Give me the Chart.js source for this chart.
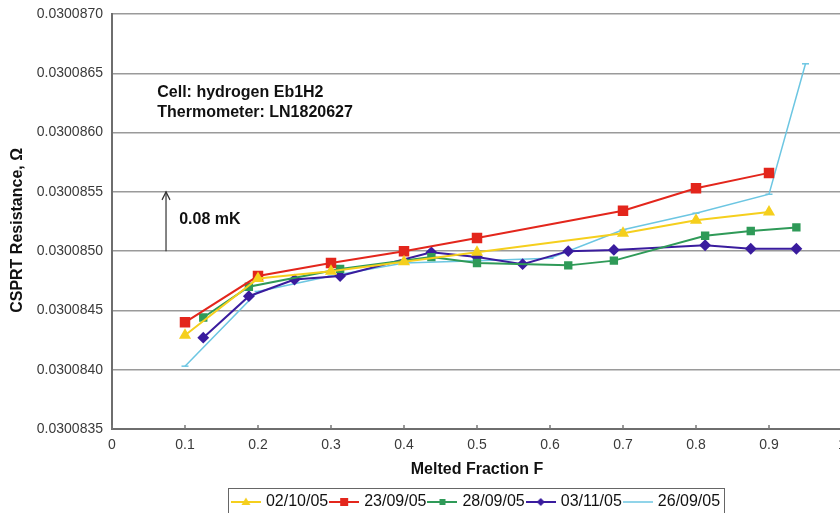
<!DOCTYPE html>
<html>
<head>
<meta charset="utf-8">
<script src="https://cdn.jsdelivr.net/npm/chart.js@4"></script>
<style>
  html, body { margin: 0; padding: 0; overflow: hidden; background: #fff; }
  #wrap { width: 850px; height: 525px; }
</style>
</head>
<body>
<div id="wrap"><canvas id="resistanceChart" width="850" height="525"></canvas></div>
<script>
// tick labels
const xTicks = [0, 0.1, 0.2, 0.3, 0.4, 0.5, 0.6, 0.7, 0.8, 0.9, 1]
const yTicks = [0.0300835, 0.0300840, 0.0300845, 0.0300850, 0.0300855, 0.0300860, 0.0300865, 0.0300870]

// series (melted fraction F, resistance in ohm)
const labels = ['02/10/05', '23/09/05', '28/09/05', '03/11/05', '26/09/05']

const f021005 = [0.1, 0.2, 0.3, 0.4, 0.5, 0.7, 0.8, 0.9]
const r021005 = [0.03008429, 0.03008477, 0.03008483, 0.03008491, 0.03008499, 0.03008515, 0.03008526, 0.03008533]

const f230905 = [0.1, 0.2, 0.3, 0.4, 0.5, 0.7, 0.8, 0.9]
const r230905 = [0.03008440, 0.03008479, 0.03008490, 0.03008500, 0.03008511, 0.03008534, 0.03008553, 0.03008566]

const f280905 = [0.125, 0.1875, 0.3125, 0.4375, 0.5, 0.625, 0.6875, 0.8125, 0.875, 0.9375]
const r280905 = [0.03008444, 0.03008470, 0.03008485, 0.03008495, 0.03008490, 0.03008488, 0.03008492, 0.03008513, 0.03008517, 0.03008520]

const f031105 = [0.125, 0.1875, 0.25, 0.3125, 0.4375, 0.5, 0.5625, 0.625, 0.6875, 0.8125, 0.875, 0.9375]
const r031105 = [0.03008427, 0.03008462, 0.03008476, 0.03008479, 0.03008499, 0.03008495, 0.03008489, 0.03008500, 0.03008501, 0.03008505, 0.03008502, 0.03008502]

const f260905 = [0.1, 0.2, 0.3, 0.4, 0.5, 0.6, 0.7, 0.8, 0.9, 0.95]
const r260905 = [0.03008403, 0.03008466, 0.03008479, 0.03008490, 0.03008492, 0.03008494, 0.03008518, 0.03008532, 0.03008548, 0.03008658]

const colors = ['#f5cf1d', '#e3261c', '#2f9a58', '#3a1c9e', '#6cc6e2']

const toPoints = (xs, ys) => xs.map((x, i) => ({ x: x, y: ys[i] }))

// little line + marker pictures for the legend
const legendSymbol = (color, shape, lineWidth) => {
    const c = document.createElement('canvas')
    c.width = 30
    c.height = 14
    const g = c.getContext('2d')
    g.strokeStyle = color
    g.fillStyle = color
    g.lineWidth = lineWidth
    g.beginPath(); g.moveTo(0, 7); g.lineTo(30, 7); g.stroke()
    g.beginPath()
    if (shape === 'triangle') { g.moveTo(15, 2.5); g.lineTo(19.5, 10); g.lineTo(10.5, 10); g.closePath(); g.fill() }
    if (shape === 'square') { g.rect(11, 3, 8, 8); g.fill() }
    if (shape === 'small') { g.rect(12, 4, 6, 6); g.fill() }
    if (shape === 'diamond') { g.moveTo(15, 3); g.lineTo(19, 7); g.lineTo(15, 11); g.lineTo(11, 7); g.closePath(); g.fill() }
    return c
}

const symbols = [
    legendSymbol(colors[0], 'triangle', 2),
    legendSymbol(colors[1], 'square', 2),
    legendSymbol(colors[2], 'small', 2),
    legendSymbol(colors[3], 'diamond', 2),
    legendSymbol(colors[4], null, 1.5)
]

const decorations = {
    id: 'decorations',
    afterDraw(chart) {
        const { ctx, chartArea } = chart
        const x = chart.scales.x
        const y = chart.scales.y
        ctx.save()

        // small inward ticks on the x axis
        ctx.strokeStyle = '#777'
        ctx.lineWidth = 1.5
        xTicks.forEach(v => {
            const px = x.getPixelForValue(v)
            ctx.beginPath(); ctx.moveTo(px, chartArea.bottom); ctx.lineTo(px, chartArea.bottom - 4); ctx.stroke()
        })

        // arrow for 0.08 mK
        const ax = x.getPixelForValue(0.074)
        const ay0 = y.getPixelForValue(0.0300850)
        const ay1 = y.getPixelForValue(0.0300855)
        ctx.strokeStyle = '#333'
        ctx.lineWidth = 1.2
        ctx.beginPath(); ctx.moveTo(ax, ay0); ctx.lineTo(ax, ay1); ctx.stroke()
        ctx.beginPath(); ctx.moveTo(ax - 4, ay1 + 8); ctx.lineTo(ax, ay1); ctx.lineTo(ax + 4, ay1 + 8); ctx.stroke()

        // notes
        ctx.fillStyle = '#111'
        ctx.font = 'bold 16px "Liberation Sans", Arial, sans-serif'
        ctx.textBaseline = 'middle'
        ctx.textAlign = 'left'
        ctx.fillText('Cell: hydrogen Eb1H2', x.getPixelForValue(0.062), y.getPixelForValue(0.03008634))
        ctx.fillText('Thermometer: LN1820627', x.getPixelForValue(0.062), y.getPixelForValue(0.03008617))
        ctx.fillText('0.08 mK', x.getPixelForValue(0.092), y.getPixelForValue(0.03008527))

        // frame round the legend
        const boxes = chart.legend.legendHitBoxes
        if (boxes && boxes.length) {
            const first = boxes[0]
            const last = boxes[boxes.length - 1]
            ctx.strokeStyle = '#666'
            ctx.lineWidth = 1
            ctx.strokeRect(Math.round(first.left - 6) + 0.5, Math.round(chart.legend.top - 2) + 0.5,
                Math.round(last.left + last.width - first.left + 10), 40)
        }
        ctx.restore()
    }
}

Chart.defaults.font.family = '"Liberation Sans", Arial, sans-serif'
Chart.defaults.color = '#3a3a3a'

const ctx = document.getElementById('resistanceChart')

new Chart(ctx, {
    type: 'line',
    data: {
        datasets: [
            {
                label: labels[0], data: toPoints(f021005, r021005),
                borderColor: colors[0], backgroundColor: colors[0], borderWidth: 2,
                pointStyle: 'triangle', pointRadius: 5
            },
            {
                label: labels[1], data: toPoints(f230905, r230905),
                borderColor: colors[1], backgroundColor: colors[1], borderWidth: 2,
                pointStyle: 'rect', pointRadius: 6
            },
            {
                label: labels[2], data: toPoints(f280905, r280905),
                borderColor: colors[2], backgroundColor: colors[2], borderWidth: 2,
                pointStyle: 'rect', pointRadius: 4.5
            },
            {
                label: labels[3], data: toPoints(f031105, r031105),
                borderColor: colors[3], backgroundColor: colors[3], borderWidth: 2,
                pointStyle: 'rectRot', pointRadius: 4.5
            },
            {
                label: labels[4], data: toPoints(f260905, r260905),
                borderColor: colors[4], backgroundColor: colors[4], borderWidth: 1.5,
                pointStyle: 'line', pointRadius: 3.5
            }
        ]
    },
    options: {
        responsive: false,
        animation: false,
        layout: { padding: { left: 0, right: 7, top: 14, bottom: 5 } },
        scales: {
            x: {
                type: 'linear',
                min: 0,
                max: 1,
                afterBuildTicks: scale => { scale.ticks = xTicks.map(v => ({ value: v })) },
                afterFit: scale => {
                    scale.height = 61
                    scale.paddingLeft = 0
                    scale.paddingRight = 0
                },
                ticks: {
                    padding: 8,
                    font: { size: 14 },
                    callback: v => String(v)
                },
                grid: { display: true, drawOnChartArea: false, drawTicks: false },
                border: { display: true, color: '#6e6e6e', width: 2 },
                title: {
                    display: true,
                    text: 'Melted Fraction F',
                    color: '#111',
                    font: { size: 16, weight: 'bold' },
                    padding: { top: 0, bottom: 11 }
                }
            },
            y: {
                min: 0.0300835,
                max: 0.0300870,
                afterBuildTicks: scale => { scale.ticks = yTicks.map(v => ({ value: v })) },
                afterFit: scale => {
                    scale.width = 112
                    scale.paddingTop = 0
                    scale.paddingBottom = 0
                },
                ticks: {
                    padding: 9,
                    font: { size: 14 },
                    callback: v => v.toFixed(7)
                },
                grid: { color: '#9a9a9a', lineWidth: 1.5, drawTicks: false },
                border: { display: true, color: '#6e6e6e', width: 2 },
                title: {
                    display: true,
                    text: 'CSPRT Resistance, Ω    ',
                    color: '#111',
                    font: { size: 16, weight: 'bold' },
                    padding: { top: 8, bottom: 0 }
                }
            }
        },
        plugins: {
            tooltip: { enabled: false },
            legend: {
                position: 'bottom',
                fullSize: false,
                labels: {
                    usePointStyle: true,
                    pointStyleWidth: 24,
                    padding: 4,
                    color: '#111',
                    font: { size: 16 },
                    generateLabels: chart => Chart.defaults.plugins.legend.labels.generateLabels(chart)
                        .map((item, i) => Object.assign(item, { pointStyle: symbols[i] }))
                }
            }
        }
    },
    plugins: [decorations]
})
</script>
</body>
</html>
